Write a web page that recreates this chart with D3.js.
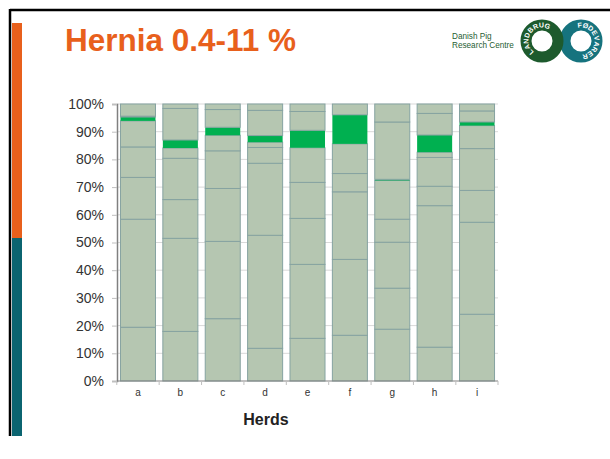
<!DOCTYPE html>
<html><head><meta charset="utf-8">
<script src="https://cdn.jsdelivr.net/npm/d3@7"></script>
<style>body{margin:0;background:#fff}svg{display:block}</style>
</head><body>
<svg id="c" width="610" height="459"></svg>
<script>
// ---- data ----
const herds = ["a","b","c","d","e","f","g","h","i"];
const seriesKeys = ["s1","s2","s3","s4","s5","hernia","s7","s8"];
const s1 = [19.4,17.9,22.5,11.8,15.4,16.5,18.7,12.2,24.1];
const s2 = [39.0,33.6,27.9,40.8,26.7,27.4,14.8,51.1,33.2];
const s3 = [15.1,14.0,19.1,26.0,16.6,24.4,16.6,7.0,11.5];
const s4 = [11.0,14.9,13.6,5.7,13.0,6.6,8.3,10.4,15.1];
const s5 = [9.4,3.7,5.6,1.9,12.5,10.7,14.0,1.9,8.3];
const hernia = [1.4,2.9,2.9,2.4,6.3,10.5,0.4,6.2,1.3];
const s7 = [0.3,11.4,6.4,9.1,6.8,3.9,20.7,7.8,4.0];
const s8 = [4.4,1.6,2.0,2.3,2.7,0.0,6.5,3.4,2.5];
const yTicks = [0,10,20,30,40,50,60,70,80,90,100];
const titleText = "Hernia 0.4-11 %";
const xTitle = "Herds";

const seriesData = {s1,s2,s3,s4,s5,hernia,s7,s8};
const table = herds.map((h,i)=>{
  const o = {herd:h};
  seriesKeys.forEach(k=>o[k]=seriesData[k][i]);
  return o;
});

const svg = d3.select("#c");
const font = "Liberation Sans, Arial, sans-serif";

// frame & side bars
svg.append("rect").attr("x",12).attr("y",23).attr("width",10).attr("height",215).attr("fill","#e8601c");
svg.append("rect").attr("x",12).attr("y",238).attr("width",10).attr("height",198).attr("fill","#0b6470");
svg.append("line").attr("x1",10).attr("x2",610).attr("y1",10).attr("y2",10).attr("stroke","#000").attr("stroke-width",2.5);
svg.append("line").attr("x1",10).attr("x2",10).attr("y1",9).attr("y2",436).attr("stroke","#000").attr("stroke-width",2.5);

// title
svg.append("text").attr("x",65).attr("y",51).attr("font-family",font).attr("font-weight","bold")
  .attr("font-size",31.5).attr("fill","#e8601c").text(titleText);

// logo text
const lg = svg.append("g").attr("font-family",font).attr("fill","#1f5e33").attr("font-size",8.2);
lg.append("text").attr("x",452).attr("y",39).text("Danish Pig");
lg.append("text").attr("x",452).attr("y",48).text("Research Centre");

// rings
function ring(cx,cy,color,word,startDeg,endDeg){
  const g = svg.append("g");
  g.append("circle").attr("cx",cx).attr("cy",cy).attr("r",16).attr("fill","none")
    .attr("stroke",color).attr("stroke-width",11);
  const n = word.length;
  word.split("").forEach((ch,i)=>{
    const a = startDeg + (endDeg-startDeg)*i/(n-1);
    g.append("text").attr("transform",`translate(${cx},${cy}) rotate(${a}) translate(0,-13.5)`)
      .attr("text-anchor","middle").attr("font-family",font).attr("font-weight","bold")
      .attr("font-size",7).attr("fill","#fff").text(ch);
  });
}
ring(581,41,"#16737e","FØDEVARER",-5,165);
ring(542,41,"#1d5a2d","LANDBRUG",-135,20);

// chart
const x = d3.scaleBand().domain(herds).range([117,498]).paddingInner(0.15).paddingOuter(0.07);
const y = d3.scaleLinear().domain([0,100]).range([381,104]);

// gridlines
svg.append("g").selectAll("line").data(yTicks.filter(d=>d>0)).join("line")
  .attr("x1",117).attr("x2",498).attr("y1",d=>y(d)).attr("y2",d=>y(d))
  .attr("stroke","#d9d9d9").attr("stroke-width",1);

const stack = d3.stack().keys(seriesKeys)(table);
const sage = "#b5c6b1";
svg.append("g").selectAll("g").data(stack).join("g")
  .attr("fill",d=>d.key==="hernia"?"#00b050":sage)
  .attr("stroke",d=>d.key==="hernia"?"none":"#86a3a1")
  .attr("stroke-width",1)
  .selectAll("rect").data(d=>d).join("rect")
  .attr("x",d=>x(d.data.herd)+0.5)
  .attr("width",x.bandwidth()-1)
  .attr("y",d=>y(d[1]))
  .attr("height",d=>Math.max(0,y(d[0])-y(d[1])));

// y axis
const ya = svg.append("g").attr("transform","translate(117,0)")
  .call(d3.axisLeft(y).tickValues(yTicks).tickFormat(d=>d+"%").tickSize(5).tickPadding(8));
ya.select(".domain").attr("stroke","#808080").attr("stroke-width",1.5);
ya.selectAll(".tick line").attr("stroke","#bfbfbf");
ya.selectAll("text").attr("font-family",font).attr("font-size",14).attr("fill","#333");

// x axis
const xa = svg.append("g").attr("transform","translate(0,381)");
xa.append("line").attr("x1",117).attr("x2",498).attr("stroke","#808080").attr("stroke-width",1);
const bounds = herds.map(h=>x(h)-x.step()*x.paddingInner()/2).concat([498]);
xa.selectAll(".xt").data(bounds).join("line").attr("class","xt")
  .attr("x1",d=>d).attr("x2",d=>d).attr("y1",0).attr("y2",4).attr("stroke","#bfbfbf");
xa.selectAll(".xl").data(herds).join("text").attr("class","xl")
  .attr("x",d=>x(d)+x.bandwidth()/2).attr("y",15).attr("text-anchor","middle")
  .attr("font-family",font).attr("font-size",10).attr("fill","#333").text(d=>d);

svg.append("text").attr("x",266).attr("y",425).attr("text-anchor","middle")
  .attr("font-family",font).attr("font-weight","bold").attr("font-size",16).attr("fill","#222").text(xTitle);
</script>
</body></html>
